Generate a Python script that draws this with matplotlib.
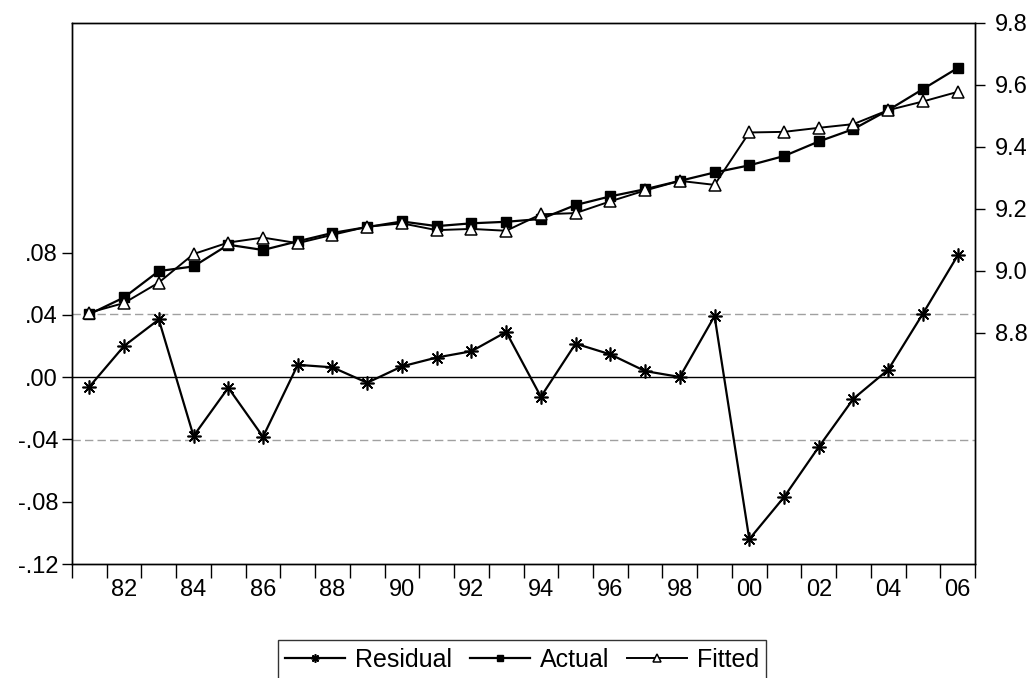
#------ Residual / Actual / Fitted plot ------
import numpy as np
import matplotlib
matplotlib.use("Agg")
import matplotlib.pyplot as plt
from matplotlib.ticker import FixedLocator, FuncFormatter

plt.rcParams['font.family'] = ['Liberation Sans', 'DejaVu Sans']

"Data read off the chart"
years = list(range(1981, 2007))
residual = [-0.0062, 0.0200, 0.0370, -0.0378, -0.0068, -0.0383, 0.0079, 0.0063,
            -0.0036, 0.0069, 0.0126, 0.0166, 0.0290, -0.0126, 0.0215, 0.0146,
            0.0039, 0.0001, 0.0392, -0.1040, -0.0770, -0.0448, -0.0138, 0.0048,
            0.0408, 0.0781]
actual = [8.860, 8.914, 8.999, 9.014, 9.084, 9.067, 9.095, 9.122, 9.141, 9.159,
          9.144, 9.153, 9.158, 9.167, 9.212, 9.240, 9.263, 9.290, 9.317, 9.340,
          9.370, 9.417, 9.457, 9.518, 9.586, 9.654]
fitted = [8.865, 8.896, 8.962, 9.054, 9.091, 9.107, 9.089, 9.116, 9.142, 9.153,
          9.131, 9.135, 9.129, 9.182, 9.186, 9.224, 9.259, 9.290, 9.277, 9.446,
          9.448, 9.461, 9.473, 9.518, 9.546, 9.577]
std_err = 0.0403
left_ticks = [-0.12, -0.08, -0.04, 0.00, 0.04, 0.08]
right_ticks = [8.8, 9.0, 9.2, 9.4, 9.6, 9.8]
label_years = list(range(1982, 2007, 2))


def dot_fmt(v, pos):
    s = "%.2f" % v
    return s.replace("0.", ".", 1)   # .08 style like eviews


fig = plt.figure(figsize=(10.34, 6.78), dpi=100)
ax = fig.add_axes([0.0696, 0.168, 0.8734, 0.7985])
ax2 = ax.twinx()

# residual on left axis
ax.axhline(0, color="black", lw=1.0, zorder=1)
ax.axhline(std_err, color="#a0a0a0", lw=1.0, ls=(0, (6, 3)), zorder=1)
ax.axhline(-std_err, color="#a0a0a0", lw=1.0, ls=(0, (6, 3)), zorder=1)
l1, = ax.plot(years, residual, color="black", lw=1.6, marker=(8, 2, 0),
              markersize=10, markeredgewidth=1.2, label="Residual")

# actual and fitted on right axis
l2, = ax2.plot(years, actual, color="black", lw=1.6, marker="s",
               markersize=7, label="Actual")
l3, = ax2.plot(years, fitted, color="black", lw=1.4, marker="^",
               markersize=8.5, markerfacecolor="white", markeredgewidth=1.1,
               label="Fitted")

ax.set_xlim(1980.5, 2006.5)
ax.set_ylim(-0.12, 0.2275)
ax2.set_ylim(8.054, 9.8)

ax.yaxis.set_major_locator(FixedLocator(left_ticks))
ax.yaxis.set_major_formatter(FuncFormatter(dot_fmt))
ax2.yaxis.set_major_locator(FixedLocator(right_ticks))
ax2.yaxis.set_major_formatter(FuncFormatter(lambda v, p: "%.1f" % v))

# ticks at year boundaries, labels in the middle of the years
ax.xaxis.set_major_locator(FixedLocator(np.arange(1980.5, 2007, 1.0)))
ax.xaxis.set_major_formatter(FuncFormatter(lambda v, p: ""))
ax.xaxis.set_minor_locator(FixedLocator(label_years))
ax.xaxis.set_minor_formatter(FuncFormatter(lambda v, p: "%02d" % (int(round(v)) % 100)))
ax.tick_params(axis="x", which="major", direction="out", length=10, width=1)
ax.tick_params(axis="x", which="minor", length=0, labelsize=17, pad=11)
ax.tick_params(axis="y", direction="out", length=7, width=1, labelsize=17, pad=3)
ax2.tick_params(axis="y", direction="out", length=7, width=1, labelsize=17, pad=7)

for a in (ax, ax2):
    for sp in a.spines.values():
        sp.set_linewidth(1.0)

leg = fig.legend(handles=[l1, l2, l3], loc="upper center",
                 bbox_to_anchor=(0.505, 0.056), ncol=3, fontsize=18,
                 frameon=True, fancybox=False, edgecolor="black",
                 handlelength=2.4, handletextpad=0.4, columnspacing=0.7,
                 markerscale=0.6, borderpad=0.3, borderaxespad=0)
leg.get_frame().set_linewidth(1.0)

fig.savefig("out.png", dpi=100)
